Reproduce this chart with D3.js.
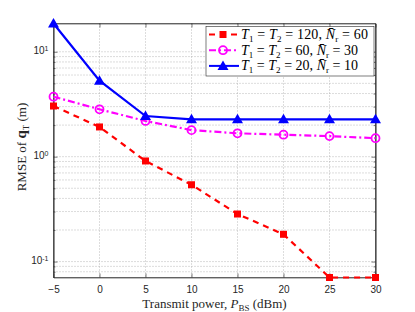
<!DOCTYPE html>
<html lang="en">
<head>
<meta charset="UTF-8">
<title>RMSE vs transmit power</title>
<script src="https://cdn.jsdelivr.net/npm/d3@7"></script>
<style>
  body { margin: 0; background: #fff; }
  .tick text { font-family: "Liberation Sans", Arial, sans-serif; font-size: 10px; fill: #262626; }
  .lab { font-family: "Liberation Serif", "DejaVu Serif", serif; font-size: 13px; fill: #262626; }
  .leg { font-family: "Liberation Serif", "DejaVu Serif", serif; font-size: 14px; fill: #000; }
</style>
</head>
<body>
<script>
// data
var power = [-5, 0, 5, 10, 15, 20, 25, 30];
var rmse120 = [3.04, 1.92, 0.91, 0.54, 0.284, 0.182, 0.0705, 0.0705];
var rmse60 = [3.73, 2.83, 2.19, 1.79, 1.67, 1.62, 1.57, 1.50];
var rmse20 = [18.6, 5.3, 2.44, 2.27, 2.27, 2.27, 2.27, 2.27];
var xTicks = [-5, 0, 5, 10, 15, 20, 25, 30];
var yTicks = [0.1, 1, 10];

var margin = {top: 23.5, right: 39.5, bottom: 34.5, left: 53.5},
    width = 415 - margin.left - margin.right,
    height = 312 - margin.top - margin.bottom;

var x = d3.scaleLinear().domain([-5, 30]).range([0, width]);
var y = d3.scaleLog().domain([0.0705, 18.6]).range([height, 0]);

var svg = d3.select("body").append("svg")
    .attr("width", 415).attr("height", 312)
  .append("g")
    .attr("transform", "translate(" + margin.left + "," + margin.top + ")");

// minor values for log grid
var minor = [];
[0.01, 0.1, 1, 10].forEach(function(d) {
  for (var k = 2; k <= 9; k++) {
    var v = d * k;
    if (v >= y.domain()[0] && v <= y.domain()[1]) minor.push(v);
  }
});

// grid
var grid = svg.append("g").attr("stroke", "#a8a8a8").attr("stroke-width", 0.8)
    .attr("stroke-dasharray", "1,2");
grid.selectAll(".gx").data(xTicks.slice(1, -1)).enter().append("line")
    .attr("x1", x).attr("x2", x).attr("y1", 0).attr("y2", height);
grid.selectAll(".gy").data(yTicks.concat(minor)).enter().append("line")
    .attr("x1", 0).attr("x2", width).attr("y1", y).attr("y2", y);

// axes
svg.append("g").attr("transform", "translate(0," + height + ")")
    .call(d3.axisBottom(x).tickValues(xTicks).tickSizeInner(-4).tickSizeOuter(0).tickPadding(8));
svg.append("g")
    .call(d3.axisTop(x).tickValues(xTicks).tickSizeInner(-4).tickSizeOuter(0).tickFormat(""));
var yAxis = svg.append("g")
    .call(d3.axisLeft(y).tickValues(yTicks).tickSizeInner(-4).tickSizeOuter(0).tickPadding(6)
      .tickFormat(function() { return ""; }));
svg.append("g").attr("transform", "translate(" + width + ",0)")
    .call(d3.axisRight(y).tickValues(yTicks).tickSizeInner(-4).tickSizeOuter(0).tickFormat(""));
svg.append("g").call(d3.axisLeft(y).tickValues(minor).tickSizeInner(-2).tickSizeOuter(0).tickFormat(""));
svg.append("g").attr("transform", "translate(" + width + ",0)")
    .call(d3.axisRight(y).tickValues(minor).tickSizeInner(-2).tickSizeOuter(0).tickFormat(""));
svg.selectAll(".domain, .tick line").attr("stroke", "#262626").attr("stroke-width", 0.6);

// y tick labels as 10^n
yAxis.selectAll(".tick text").each(function(d) {
  var t = d3.select(this).text(null).attr("dy", "0.2em");
  t.append("tspan").text("10");
  t.append("tspan").attr("dy", "-0.45em").attr("font-size", "7px").text(Math.round(Math.log10(d)));
});
yAxis.selectAll(".tick text").attr("x", -5);

// box
svg.append("rect").attr("width", width).attr("height", height)
    .attr("fill", "none").attr("stroke", "#262626").attr("stroke-width", 0.6);

var line = d3.line().x(function(d, i) { return x(power[i]); }).y(function(d) { return y(d); });

var series = [
  {vals: rmse120, color: "#ff0000", dash: "6,5", mark: "square"},
  {vals: rmse60, color: "#ff00ff", dash: "7,3,2,3", mark: "circle"},
  {vals: rmse20, color: "#0000ff", dash: null, mark: "triangle"}
];

function drawMark(g, s, cx, cy) {
  if (s.mark === "square") {
    g.append("rect").attr("x", cx - 3.5).attr("y", cy - 3.5).attr("width", 7).attr("height", 7)
      .attr("fill", s.color);
  } else if (s.mark === "circle") {
    g.append("circle").attr("cx", cx).attr("cy", cy).attr("r", 4)
      .attr("fill", "none").attr("stroke", s.color).attr("stroke-width", 1.8);
  } else {
    g.append("path").attr("d", "M" + cx + "," + (cy - 5.5) + "L" + (cx + 5.5) + "," + (cy + 4) + "L" + (cx - 5.5) + "," + (cy + 4) + "Z")
      .attr("fill", s.color);
  }
}

series.forEach(function(s) {
  var g = svg.append("g");
  g.append("path").datum(s.vals).attr("d", line)
    .attr("fill", "none").attr("stroke", s.color).attr("stroke-width", 2.2)
    .attr("stroke-dasharray", s.dash);
  s.vals.forEach(function(v, i) { drawMark(g, s, x(power[i]), y(v)); });
});

// legend
var legendLabels = [
  ["T", "1", " = ", "T", "2", " = 120, ", "N", "r", " = 60"],
  ["T", "1", " = ", "T", "2", " = 60, ", "N", "r", " = 30"],
  ["T", "1", " = ", "T", "2", " = 20, ", "N", "r", " = 10"]
];
var lg = svg.append("g").attr("transform", "translate(" + (206 - margin.left) + "," + (26.5 - margin.top) + ")");
lg.append("rect").attr("width", 168).attr("height", 49.5)
  .attr("fill", "#fff").attr("stroke", "#262626").attr("stroke-width", 0.6);
series.forEach(function(s, i) {
  var yy = 8 + i * 15.7;
  lg.append("line").attr("x1", 3).attr("x2", 33).attr("y1", yy).attr("y2", yy)
    .attr("stroke", s.color).attr("stroke-width", 2).attr("stroke-dasharray", s.dash);
  drawMark(lg, s, 17, yy);
  var parts = legendLabels[i];
  var t = lg.append("text").attr("class", "leg").attr("x", 35).attr("y", yy + 4.5)
    .attr("textLength", i === 0 ? 127 : 117).attr("lengthAdjust", "spacing");
  t.append("tspan").attr("font-style", "italic").text(parts[0]);
  t.append("tspan").attr("font-size", "9px").attr("dy", 3).text(parts[1]);
  t.append("tspan").attr("dy", -3).text(parts[2]);
  t.append("tspan").attr("font-style", "italic").text(parts[3]);
  t.append("tspan").attr("font-size", "9px").attr("dy", 3).text(parts[4]);
  t.append("tspan").attr("dy", -3).text(parts[5]);
  t.append("tspan").attr("font-style", "italic").text(parts[6] + "\u0304");
  t.append("tspan").attr("font-size", "9px").attr("dy", 3).text(parts[7]);
  t.append("tspan").attr("dy", -3).text(parts[8]);
});

// axis labels
var xl = svg.append("text").attr("class", "lab").attr("text-anchor", "middle")
    .attr("x", width / 2).attr("y", height + 30);
xl.append("tspan").text("Transmit power, ");
xl.append("tspan").attr("font-style", "italic").text("P");
xl.append("tspan").attr("font-size", "9px").attr("dy", 3).text("BS");
xl.append("tspan").attr("dy", -3).text(" (dBm)");

var yl = svg.append("text").attr("class", "lab").attr("text-anchor", "middle")
    .attr("transform", "translate(" + (26 - margin.left) + "," + (147 - margin.top) + ") rotate(-90)");
yl.append("tspan").text("RMSE of ");
yl.append("tspan").attr("font-weight", "bold").attr("font-size", "15px").text("q");
yl.append("tspan").attr("font-size", "9px").attr("dy", 3).text("T");
yl.append("tspan").attr("dy", -3).text(" (m)");
</script>
</body>
</html>
